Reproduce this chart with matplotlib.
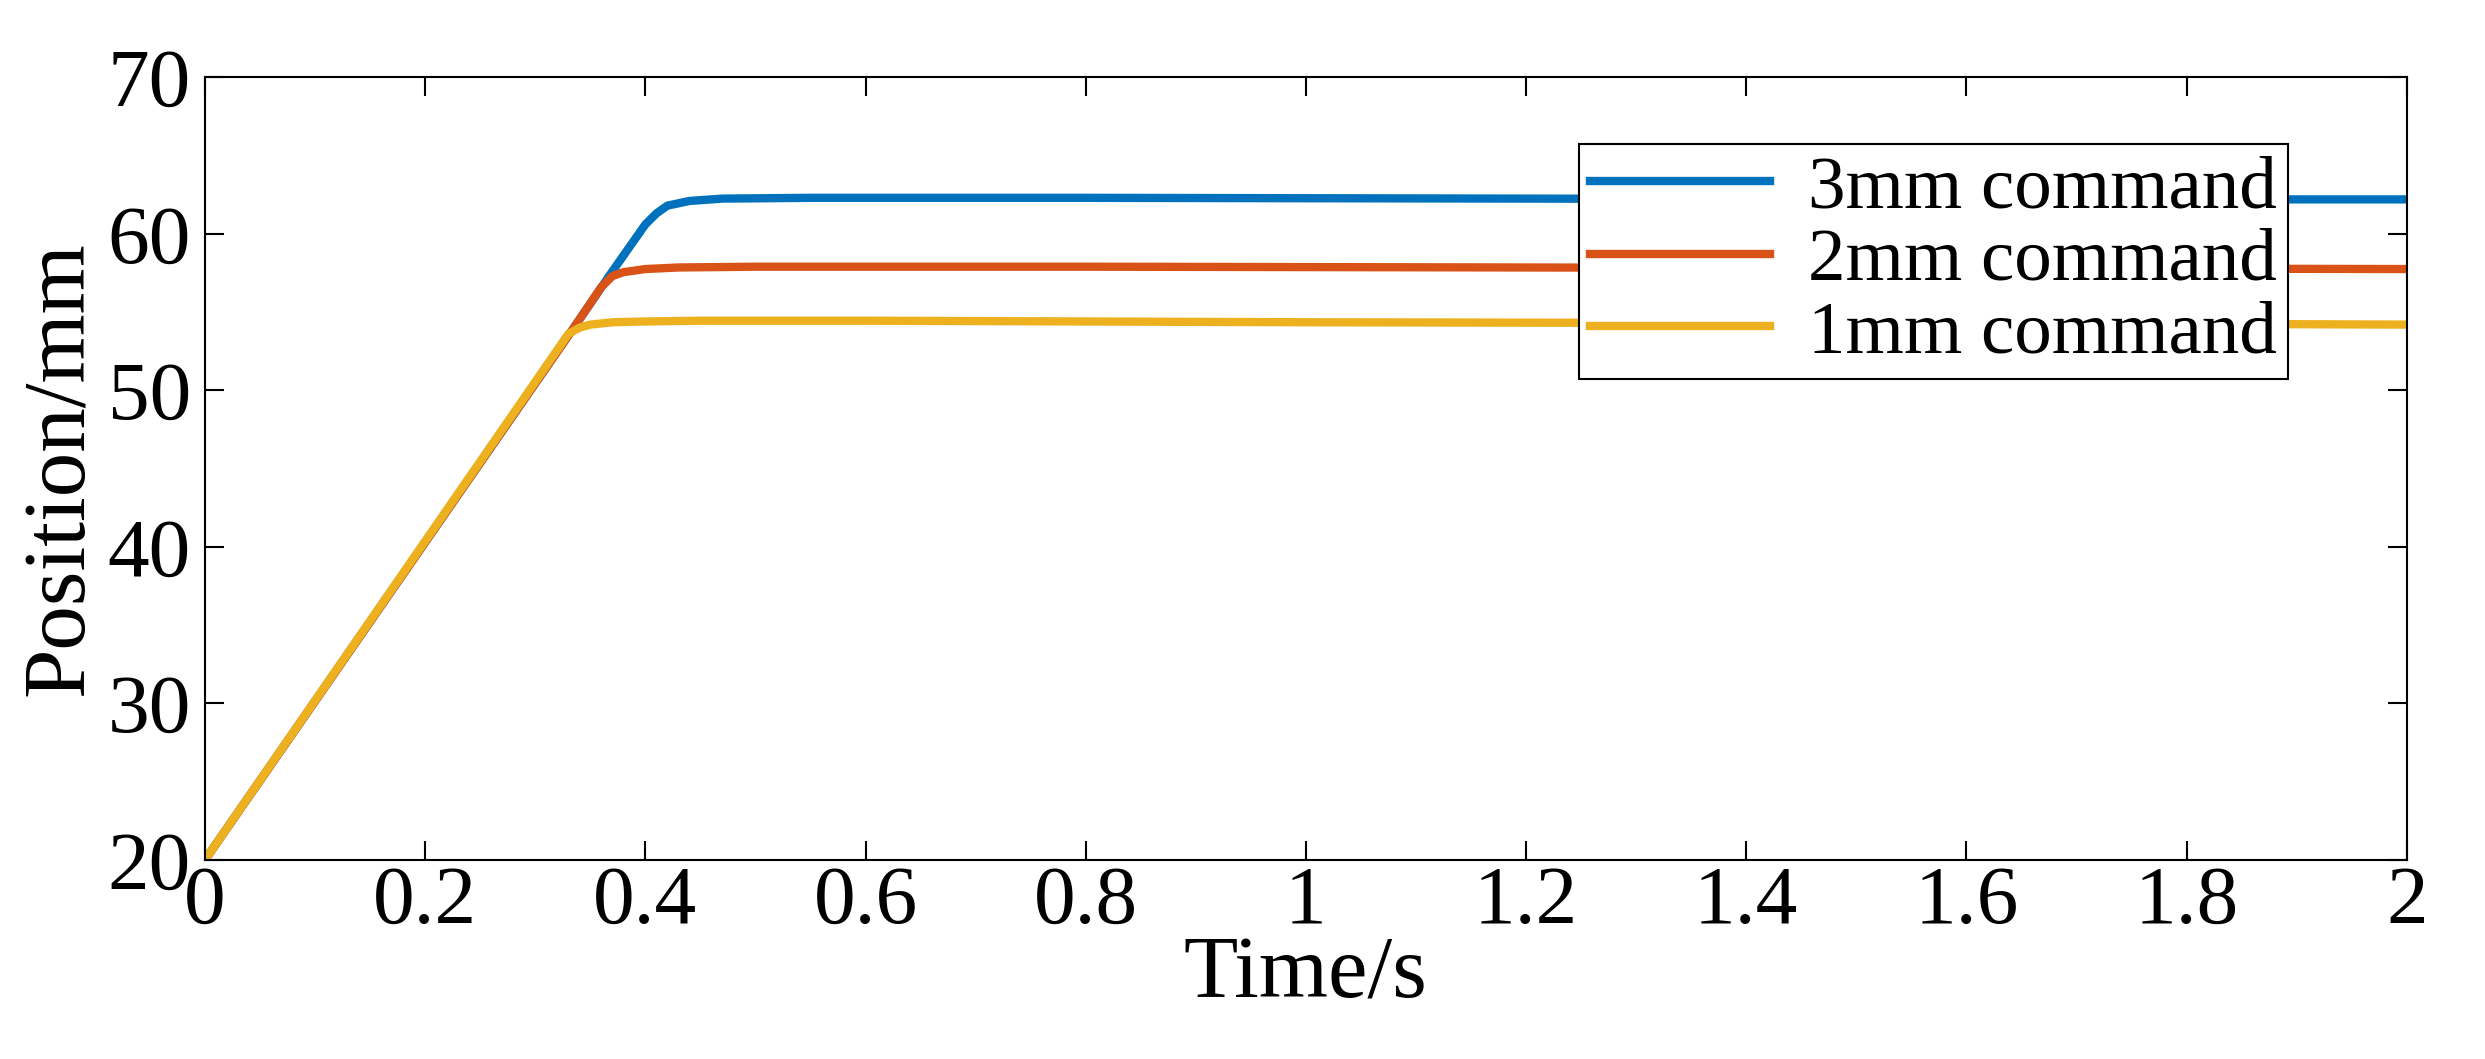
import matplotlib.pyplot as plt

# --------------------
# Data
# --------------------
t_3mm = [0, 0.335, 0.37, 0.40, 0.41, 0.42, 0.44, 0.47, 0.55, 0.8, 1.2, 1.6, 2.0]
p_3mm = [20, 54.0, 57.6, 60.6, 61.3, 61.8, 62.1, 62.25, 62.3, 62.3, 62.25, 62.2, 62.2]

t_2mm = [0, 0.335, 0.36, 0.37, 0.38, 0.40, 0.43, 0.5, 0.8, 1.2, 1.6, 2.0]
p_2mm = [20, 54.0, 56.6, 57.3, 57.55, 57.75, 57.85, 57.9, 57.9, 57.85, 57.8, 57.75]

t_1mm = [0, 0.33, 0.34, 0.35, 0.37, 0.40, 0.45, 0.6, 1.0, 1.4, 1.8, 2.0]
p_1mm = [20, 53.6, 54.0, 54.2, 54.35, 54.4, 54.45, 54.45, 54.35, 54.3, 54.25, 54.2]

plt.rcParams['font.family'] = ['Liberation Serif', 'DejaVu Serif']

fig = plt.figure(figsize=(24.85, 10.59), dpi=100)
ax = fig.add_axes([0.0825, 0.188, 0.8975 - 0.0115, 0.739])

ax.plot(t_3mm, p_3mm, color='#0072BD', lw=6, label='3mm command')
ax.plot(t_2mm, p_2mm, color='#D95319', lw=6, label='2mm command')
ax.plot(t_1mm, p_1mm, color='#EDB120', lw=6, label='1mm command')

ax.set_xlim(0, 2)
ax.set_ylim(20, 70)
ax.set_xticks([0, 0.2, 0.4, 0.6, 0.8, 1, 1.2, 1.4, 1.6, 1.8, 2])
ax.set_xticklabels(['0', '0.2', '0.4', '0.6', '0.8', '1', '1.2', '1.4', '1.6', '1.8', '2'])
ax.set_yticks([20, 30, 40, 50, 60, 70])
ax.tick_params(direction='in', labelsize=60, length=14, width=1.5, top=True, right=True)
ax.tick_params(axis='x', pad=4)
ax.tick_params(axis='y', pad=10)
for s in ax.spines.values():
    s.set_linewidth(1.5)

ax.set_xlabel('Time/s', fontsize=64, labelpad=-4)
ax.set_ylabel('Position/mm', fontsize=64, labelpad=4)

leg = ax.legend(loc='upper right', bbox_to_anchor=(0.946, 0.915), fontsize=54,
                frameon=True, fancybox=False, edgecolor='black', framealpha=1,
                handlelength=2.4, borderpad=0.15, labelspacing=0.05, handletextpad=0.5,
                borderaxespad=0)
leg.get_frame().set_linewidth(1.5)

fig.savefig('out.png', dpi=100)
